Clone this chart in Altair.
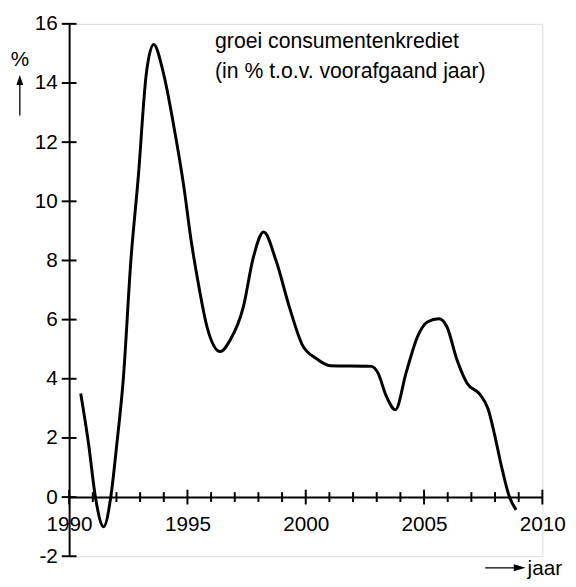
import altair as alt
import pandas as pd

years = [1990.49, 1990.83, 1991.11, 1991.46, 1991.76, 1992.01, 1992.29, 1992.61,
         1992.92, 1993.26, 1993.57, 1993.99, 1994.4, 1994.86, 1995.14, 1995.49,
         1995.83, 1996.39, 1996.8, 1997.36, 1997.78, 1998.22, 1998.75, 1999.31,
         1999.86, 2000.42, 2001.04, 2002.78, 2003.05, 2003.4, 2003.79, 2004.24,
         2004.72, 2005.14, 2005.63, 2005.97, 2006.39, 2006.81, 2007.36, 2007.71,
         2007.99, 2008.26, 2008.61, 2008.89]
growth = [3.5, 1.75, 0.0, -1.0, 0.0, 1.75, 4.0, 8.0,
          10.8, 14.3, 15.3, 14.32, 12.65, 10.43, 8.76, 7.09,
          5.75, 4.92, 5.3, 6.42, 8.09, 8.96, 7.98, 6.42,
          5.14, 4.7, 4.44, 4.42, 4.2, 3.42, 2.95, 4.2,
          5.42, 5.92, 6.03, 5.75, 4.64, 3.86, 3.47, 2.97,
          2.08, 1.08, 0.0, -0.43]

major_years = [1990, 1995, 2000, 2005, 2010]
minor_years = [y for y in range(1991, 2010) if y % 5 != 0]
y_ticks = [-2, 0, 2, 4, 6, 8, 10, 12, 14, 16]

title_lines = ["groei consumentenkrediet", "(in % t.o.v. voorafgaand jaar)"]
y_unit = "%"
x_unit = "jaar"

FONT = "Liberation Sans, Arial"
FS = 21
W, H = 480, 540

df = pd.DataFrame({"jaar": years, "groei": growth})

xs = alt.Scale(domain=[1990, 2010], nice=False, zero=False)
ys = alt.Scale(domain=[-2, 16], nice=False, zero=False)

line = alt.Chart(df).mark_line(interpolate="monotone", color="black", strokeWidth=3).encode(
    x=alt.X("jaar:Q", scale=xs, axis=alt.Axis(
        orient="bottom", offset=-H * 2 / 18, values=major_years, ticks=False, tickSize=0,
        labelPadding=17, format="d", grid=False, domainColor="black", domainWidth=2,
        labelColor="black", labelFont=FONT, labelFontSize=FS, title=None,
        labelOverlap=False, labelFlush=False)),
    y=alt.Y("groei:Q", scale=ys, axis=alt.Axis(
        orient="left", values=y_ticks, ticks=False, tickSize=0, labelPadding=12,
        labelExpr="'' + datum.value",
        grid=False, domainColor="black", domainWidth=2, labelColor="black",
        labelFont=FONT, labelFontSize=FS, title=None, labelOverlap=False, labelFlush=False)),
)

xmajor = alt.Chart(pd.DataFrame({"jaar": major_years})).mark_rule(
    color="black", strokeWidth=2, yOffset=-7.5, y2Offset=7.5
).encode(x=alt.X("jaar:Q", scale=xs), y=alt.datum(0), y2=alt.datum(0))

xminor = alt.Chart(pd.DataFrame({"jaar": minor_years})).mark_rule(
    color="black", strokeWidth=2, yOffset=-5, y2Offset=5
).encode(x=alt.X("jaar:Q", scale=xs), y=alt.datum(0), y2=alt.datum(0))

yticks = alt.Chart(pd.DataFrame({"v": y_ticks})).mark_rule(
    color="black", strokeWidth=2, xOffset=-7.5, x2Offset=7.5
).encode(y=alt.Y("v:Q", scale=ys), x=alt.datum(1990), x2=alt.datum(1990))

title_txt = alt.Chart(pd.DataFrame({"t": [title_lines]})).mark_text(
    align="left", baseline="alphabetic", font=FONT, fontSize=21.5, lineHeight=31, color="black"
).encode(text="t:N", x=alt.value(148), y=alt.value(24))

pct_txt = alt.Chart(pd.DataFrame({"t": [y_unit]})).mark_text(
    align="center", baseline="alphabetic", font=FONT, fontSize=FS, color="black"
).encode(text="t:N", x=alt.value(-50), y=alt.value(43))

jaar_txt = alt.Chart(pd.DataFrame({"t": [x_unit]})).mark_text(
    align="left", baseline="alphabetic", font=FONT, fontSize=FS, color="black"
).encode(text="t:N", x=alt.value(465), y=alt.value(559))

up_line = alt.Chart(pd.DataFrame({"a": [0]})).mark_rule(color="black", strokeWidth=1.3).encode(
    x=alt.value(-50), y=alt.value(60), y2=alt.value(93))
up_head = alt.Chart(pd.DataFrame({"a": [0]})).mark_point(
    shape="M0,-1L0.7,1L-0.7,1Z", filled=True, color="black", opacity=1, size=100
).encode(x=alt.value(-50), y=alt.value(57))

right_line = alt.Chart(pd.DataFrame({"a": [0]})).mark_rule(color="black", strokeWidth=1.3).encode(
    x=alt.value(422), x2=alt.value(456), y=alt.value(551.7))
right_head = alt.Chart(pd.DataFrame({"a": [0]})).mark_point(
    shape="M1,0L-1,0.6L-1,-0.6Z", filled=True, color="black", opacity=1, size=144
).encode(x=alt.value(457), y=alt.value(551.7))

chart = alt.layer(
    line, xmajor, xminor, yticks,
    title_txt, pct_txt, jaar_txt, up_line, up_head, right_line, right_head
).properties(
    width=W, height=H,
    autosize=alt.AutoSizeParams(type="none"),
    padding={"left": 62, "top": 12, "right": 26, "bottom": 19},
).configure_view(stroke=None).configure(background="white")

chart.save("out.html", embed_options={"renderer": "svg", "actions": False})
